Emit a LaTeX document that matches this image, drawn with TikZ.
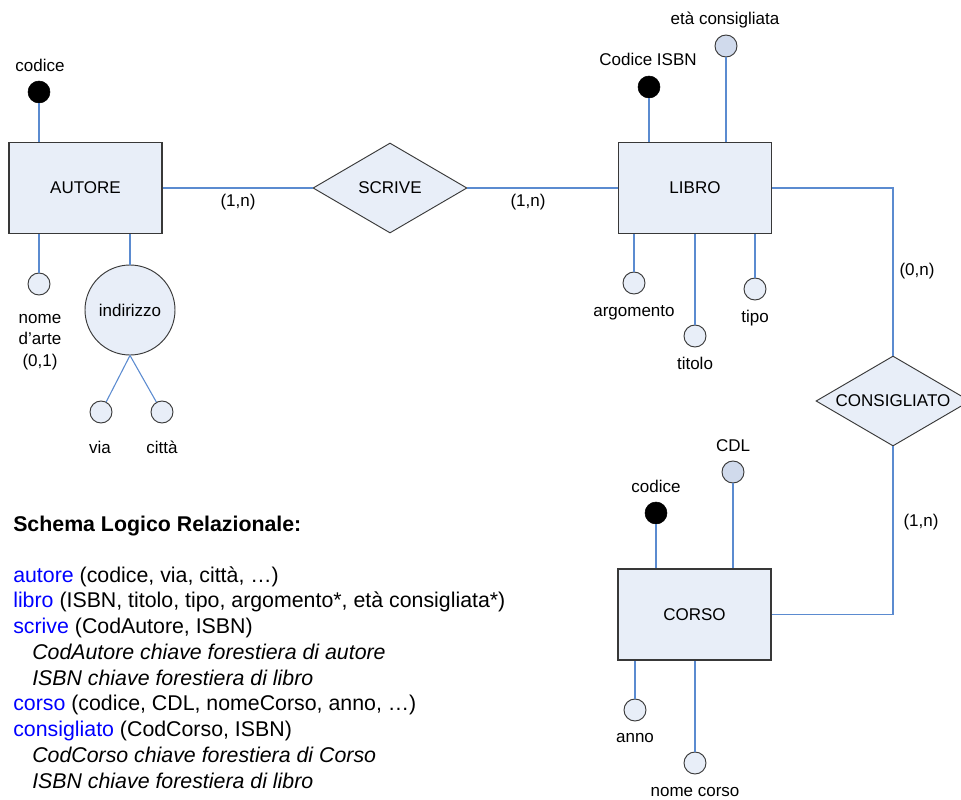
\documentclass[tikz,border=0pt]{standalone}
\usepackage{fontspec}
\setmainfont{Liberation Sans}
\usetikzlibrary{shapes.geometric}
\definecolor{shapefill}{HTML}{E8EEF8}
\definecolor{darkfill}{HTML}{D0DAEC}
\definecolor{linkblue}{HTML}{5B8BD0}
\definecolor{bordergray}{HTML}{383838}
\definecolor{relblue}{HTML}{0000FF}
\tikzset{
  entity/.style={draw=bordergray, line width=0.8pt, fill=shapefill, rectangle,
    minimum width=114.75pt, minimum height=68.25pt, inner sep=0pt,
    font=\fontsize{12.75}{15}\selectfont},
  relation/.style={draw=bordergray, line width=0.7pt, fill=shapefill, diamond,
    aspect=1.7, minimum width=115.5pt, minimum height=67.5pt, inner sep=0pt,
    font=\fontsize{12.75}{15}\selectfont},
  attr/.style={draw=bordergray, line width=0.7pt, fill=shapefill, circle,
    minimum size=16.5pt, inner sep=0pt},
  attrd/.style={attr, fill=darkfill},
  keyattr/.style={draw=black, fill=black, circle, minimum size=16.5pt, inner sep=0pt},
  compattr/.style={draw=bordergray, line width=0.7pt, fill=shapefill, circle,
    minimum size=67.5pt, inner sep=0pt, font=\fontsize{12.75}{15}\selectfont},
  lbl/.style={inner sep=0pt, text height=9.1pt, text depth=0pt,
    font=\fontsize{12.75}{15}\selectfont},
  link/.style={draw=linkblue, line width=0.8pt},
  schema/.style={anchor=base west, inner sep=0pt, font=\fontsize{16}{19}\selectfont},
  schemait/.style={schema, font=\fontsize{16}{19}\selectfont\itshape},
  rel/.style={text=relblue}
}
\begin{document}
\begin{tikzpicture}[x=0.75pt, y=-0.75pt]
\clip (0,0) rectangle (961,800);
\fill[white] (0,0) rectangle (961,800);

% ---------- AUTORE ----------
\node[entity] (autore) at (85.5,188) {AUTORE};
\node[keyattr] (acod) at (39,92) {};
\node[lbl] (acodl) at (40,65) {codice};
\node[attr] (anome) at (39,284) {};
\node[inner sep=0pt, align=center, font=\fontsize{12.75}{16.1}\selectfont] (anomel) at (40,342) {nome\\d’arte\\(0,1)};
\node[compattr] (aind) at (130,310) {indirizzo};
\node[attr] (via) at (101,412) {};
\node[attr] (citta) at (162,412) {};
\node[lbl] (vial) at (100,447) {via};
\node[lbl] (cittal) at (162,447) {città};

\draw[link] (acod) -- (acod |- autore.north);
\draw[link] (anome) -- (anome |- autore.south);
\draw[link] (aind) -- (aind |- autore.south);
\draw[link] (aind.south) -- (via);
\draw[link] (aind.south) -- (citta);

% ---------- SCRIVE ----------
\node[relation] (scrive) at (390,188) {SCRIVE};
\node[lbl] (c1) at (238,200) {(1,n)};
\node[lbl] (c2) at (528,200) {(1,n)};

% ---------- LIBRO ----------
\node[entity] (libro) at (695,188) {LIBRO};
\node[keyattr] (isbn) at (649,87) {};
\node[lbl] (isbnl) at (648,59) {Codice ISBN};
\node[attrd] (eta) at (726,46) {};
\node[lbl] (etal) at (725,18) {età consigliata};
\node[attr] (arg) at (634,283) {};
\node[lbl] (argl) at (634,310) {argomento};
\node[attr] (tit) at (695,336) {};
\node[lbl] (titl) at (695,363) {titolo};
\node[attr] (tipo) at (755,289) {};
\node[lbl] (tipol) at (755,316) {tipo};

\draw[link] (isbn) -- (isbn |- libro.north);
\draw[link] (eta) -- (eta |- libro.north);
\draw[link] (arg) -- (arg |- libro.south);
\draw[link] (tit) -- (tit |- libro.south);
\draw[link] (tipo) -- (tipo |- libro.south);

\draw[link] (autore.east) -- (scrive.west);
\draw[link] (scrive.east) -- (libro.east -| libro.west);

% ---------- CONSIGLIATO ----------
\node[relation] (cons) at (893,401) {CONSIGLIATO};
\node[lbl] (c3) at (917,269) {(0,n)};
\node[lbl] (c4) at (921,520) {(1,n)};

% ---------- CORSO ----------
\node[entity] (corso) at (694.5,614.5) {CORSO};
\node[keyattr] (ccod) at (656,513) {};
\node[lbl] (ccodl) at (656,486) {codice};
\node[attrd] (cdl) at (733,472) {};
\node[lbl] (cdll) at (733,445) {CDL};
\node[attr] (anno) at (635,710) {};
\node[lbl] (annol) at (635,736) {anno};
\node[attr] (ncorso) at (695,763) {};
\node[lbl] (ncorsol) at (695,790) {nome corso};

\draw[link] (ccod) -- (ccod |- corso.north);
\draw[link] (cdl) -- (cdl |- corso.north);
\draw[link] (anno) -- (anno |- corso.south);
\draw[link] (ncorso) -- (ncorso |- corso.south);

\draw[link] (libro.east) -| (cons.north);
\draw[link] (cons.south) |- (corso.east);

% ---------- Schema ----------
\node[schema, font=\fontsize{16}{19}\selectfont\bfseries] (title) at (13,531) {Schema Logico Relazionale:};
\node[schema] (s1) at (13,582) {\textcolor{relblue}{autore} (codice, via, città, …)};
\node[schema] (s2) at (13,607.7) {\textcolor{relblue}{libro} (ISBN, titolo, tipo, argomento*, età consigliata*)};
\node[schema] (s3) at (13,633.5) {\textcolor{relblue}{scrive} (CodAutore, ISBN)};
\node[schemait] (s4) at (32,659.3) {CodAutore chiave forestiera di autore};
\node[schemait] (s5) at (32,685) {ISBN chiave forestiera di libro};
\node[schema] (s6) at (13,710.8) {\textcolor{relblue}{corso} (codice, CDL, nomeCorso, anno, …)};
\node[schema] (s7) at (13,736.6) {\textcolor{relblue}{consigliato} (CodCorso, ISBN)};
\node[schemait] (s8) at (32,762.4) {CodCorso chiave forestiera di Corso};
\node[schemait] (s9) at (32,788.2) {ISBN chiave forestiera di libro};
\end{tikzpicture}
\end{document}
